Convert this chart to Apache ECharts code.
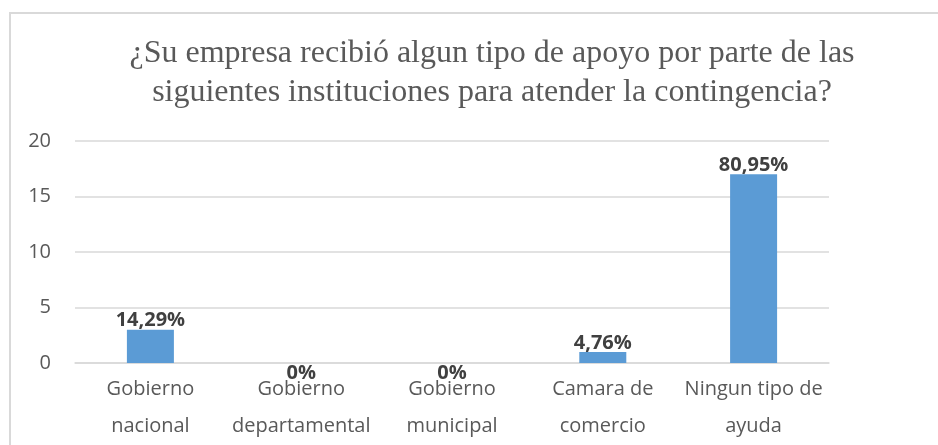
<!DOCTYPE html>
<html>
<head>
<meta charset="utf-8">
<script src="https://cdn.jsdelivr.net/npm/echarts@6/dist/echarts.min.js"></script>
<style>
  html, body { margin: 0; padding: 0; background: #fff; }
  #chart { width: 938px; height: 445px; }
</style>
</head>
<body>
<div id="chart"></div>
<script>
// Data
var categories = ['Gobierno\nnacional', 'Gobierno\ndepartamental', 'Gobierno\nmunicipal', 'Camara de\ncomercio', 'Ningun tipo de\nayuda'];
var counts = [3, 0, 0, 1, 17];
var percentLabels = ['14,29%', '0%', '0%', '4,76%', '80,95%'];
var yTicks = [0, 5, 10, 15, 20];

var titleText = '¿Su empresa recibió algun tipo de apoyo por parte de las\nsiguientes instituciones para atender la contingencia?';

var myChart = echarts.init(document.getElementById('chart'));

// zero bars get their label pushed down onto the axis, like the original
var barData = counts.map(function (v, i) {
  var item = { value: v, pct: percentLabels[i] };
  if (v === 0) {
    item.label = { offset: [0, 19] };
  }
  return item;
});

var option = {
  animation: false,
  backgroundColor: '#fff',
  title: {
    text: titleText,
    left: 487,
    top: 29,
    textAlign: 'center',
    textStyle: {
      fontFamily: '"Liberation Serif", "DejaVu Serif", serif',
      fontWeight: 'normal',
      fontSize: 32,
      lineHeight: 39,
      color: '#595959'
    }
  },
  graphic: [{
    type: 'rect',
    shape: { x: 10, y: 13, width: 1200, height: 1200 },
    style: { fill: null, stroke: '#d9d9d9', lineWidth: 2 },
    silent: true
  }],
  grid: {
    left: 75,
    right: 109,
    top: 141,
    bottom: 82
  },
  xAxis: {
    type: 'category',
    data: categories,
    axisTick: { show: false },
    axisLine: { lineStyle: { color: '#d9d9d9', width: 1.5 } },
    axisLabel: {
      interval: 0,
      margin: 8,
      fontFamily: '"Open Sans", "Noto Sans", sans-serif',
      fontSize: 20,
      lineHeight: 37,
      color: '#595959'
    }
  },
  yAxis: {
    type: 'value',
    min: yTicks[0],
    max: yTicks[yTicks.length - 1],
    interval: 5,
    axisLine: { show: false },
    axisTick: { show: false },
    splitLine: { lineStyle: { color: '#d9d9d9', width: 1.5 } },
    axisLabel: {
      margin: 24,
      fontFamily: '"Open Sans", "Noto Sans", sans-serif',
      fontSize: 20,
      color: '#595959'
    }
  },
  series: [{
    type: 'bar',
    data: barData,
    barWidth: 47,
    itemStyle: { color: '#5b9bd5' },
    label: {
      show: true,
      position: 'top',
      distance: -1,
      fontFamily: '"Open Sans", "Noto Sans", sans-serif',
      fontWeight: 'bold',
      fontSize: 20,
      color: '#404040',
      formatter: function (p) { return p.data.pct; }
    }
  }]
};

myChart.setOption(option);
</script>
</body>
</html>
